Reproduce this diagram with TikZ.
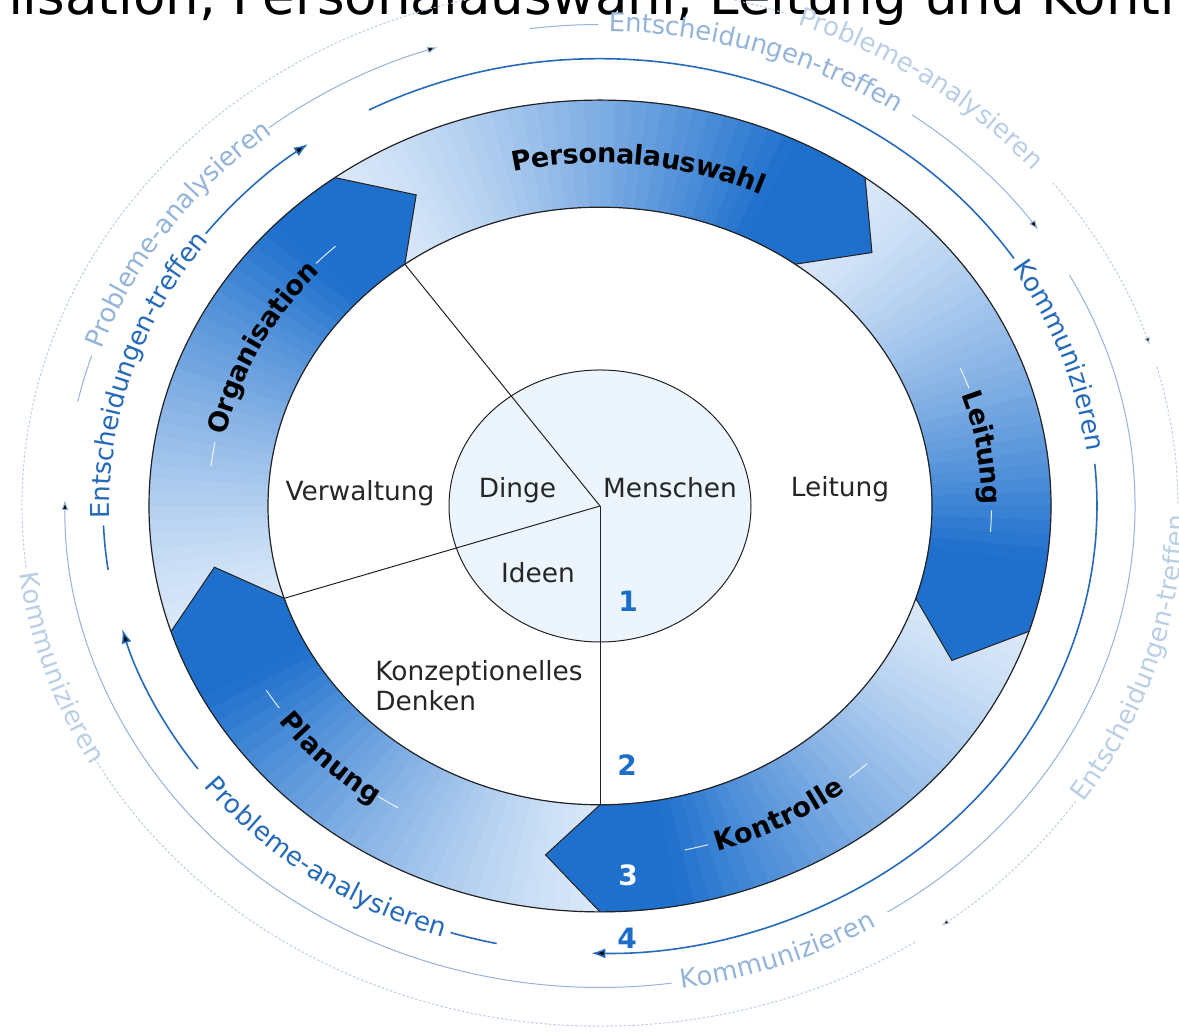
\documentclass[tikz,border=0pt]{standalone}
\usepackage{fontspec}
\setmainfont{DejaVu Sans}
\usetikzlibrary{decorations.text,arrows.meta}
\definecolor{rlight}{RGB}{218,232,249}
\definecolor{rdark}{RGB}{30,112,204}
\definecolor{dblue}{RGB}{38,106,186}
\definecolor{lblue}{RGB}{148,180,218}
\definecolor{llblue}{RGB}{186,206,230}
\definecolor{numblue}{RGB}{28,110,200}
\definecolor{innerfill}{RGB}{236,245,253}
\definecolor{ringline}{RGB}{35,35,35}
\newcommand\ept[2]{({(#2)*cos(#1)},{0.9*(#2)*sin(#1)})}
\newcommand\earc[3]{({(#3)*cos(#1)},{0.9*(#3)*sin(#1)}) arc[start angle={#1}, end angle={#2}, x radius={#3}, y radius={0.9*(#3)}]}
\newcommand\arcfont{\fontsize{13}{15}\selectfont}
\newcommand\lblfont{\fontsize{13.5}{15}\selectfont\bfseries}
\tikzset{
  dline/.style={draw=dblue, line width=0.8pt},
  lline/.style={draw=lblue, line width=0.5pt},
  llline/.style={draw=llblue, line width=0.5pt, dash pattern=on 1.2pt off 1pt},
  darrow/.style={-{Latex[length=7pt,width=5pt]}},
  larrow/.style={-{Latex[length=5pt,width=3.5pt]}},
  llarrow/.style={-{Latex[length=4pt,width=3pt]}},
  arctext/.style 2 args={decorate, decoration={text along path, text align=center, raise=-3.4pt, text color=#1, text={|\arcfont|#2}}},
  lbltext/.style={decorate, decoration={text along path, text align=center, raise=-4.6pt, text color=black, text={|\lblfont|#1}}},
  wline/.style={draw=white, line width=0.5pt, opacity=0.85},
  ctext/.style={inner sep=0pt, text=black!85, font=\fontsize{13.2}{15}\selectfont},
  numtext/.style={inner sep=0pt, text=numblue, font=\fontsize{14}{16}\selectfont\bfseries},
}
\begin{document}
\begin{tikzpicture}[x=0.5pt,y=0.5pt]
\useasboundingbox (0,0) rectangle (1179,1032);
\clip (0,0) rectangle (1179,1032);
\fill[white] (0,0) rectangle (1179,1032);
\node[anchor=base west, inner sep=0pt, font=\fontsize{26.5}{30}\selectfont] (title) at (-140,1017) {Organisation, Personalauswahl, Leitung und Kontrolle};
\begin{scope}[shift={(600,526)}]
  % ring: gradient slices
  \foreach \hc in {126,54,-18,-90,-162} {
    \foreach \j in {0,...,35} {
      \pgfmathsetmacro\angA{\hc+72-2*\j}
      \pgfmathsetmacro\angB{\angA-2}
      \pgfmathsetmacro\pct{100*(min(1,(\j+0.5)/31))^1.3}
      \fill[draw, line width=0.3pt, color=rdark!\pct!rlight] \earc{\angA}{\angB}{451} -- \earc{\angB}{\angA}{332} -- cycle;
    }
  }
  % arrow heads
  \foreach \hc in {126,54,-18,-90,-162} {
    \fill[rdark] \ept{\hc+0.8}{451} -- \ept{\hc}{451} -- \ept{\hc-8}{391.5} -- \ept{\hc}{332} -- \ept{\hc+0.8}{332} -- cycle;
    \draw[ringline, line width=0.5pt, line join=miter] \ept{\hc}{451} -- \ept{\hc-8}{391.5} -- \ept{\hc}{332};
  }
  \draw[ringline, line width=0.6pt] (0,0) ellipse[x radius=451, y radius=405.9];
  \draw[ringline, line width=0.6pt] (0,0) ellipse[x radius=332, y radius=298.8];
  % inner circle
  \filldraw[fill=innerfill, draw=ringline, line width=0.5pt] (0,0) ellipse[x radius=151, y radius=136];
  \coordinate (ctr) at (0,0);
  \path \ept{126}{332} coordinate (kO);
  \path \ept{198}{332} coordinate (kP);
  \path \ept{270}{332} coordinate (kK);
  \draw[ringline, line width=0.5pt] (ctr) -- (kO);
  \draw[ringline, line width=0.5pt] (ctr) -- (kP);
  \draw[ringline, line width=0.5pt] (ctr) -- (kK);
  % ring labels
  \path[lbltext=Organisation] \earc{183}{123}{391.5};
  \path[lbltext=Personalauswahl] \earc{114}{54}{391.5};
  \path[lbltext=Leitung] \earc{39.4}{-20.6}{391.5};
  \path[lbltext=Kontrolle] \earc{-92}{-32}{391.5};
  \path[lbltext=Planung] \earc{195.4}{255.4}{391.5};
  \draw[wline] \earc{173.5}{169.5}{391.5};
  \draw[wline] \earc{136.5}{132.5}{391.5};
  \draw[wline] \earc{23}{19.5}{391.5};
  \draw[wline] \earc{-0.7}{-4.2}{391.5};
  \draw[wline] \earc{-77.5}{-74}{391.5};
  \draw[wline] \earc{-50.5}{-47}{391.5};
  \draw[wline] \earc{211.5}{215}{391.5};
  \draw[wline] \earc{235.5}{239}{391.5};
  % dark blue circle
  \draw[dline] \earc{258}{252.5}{497};
  \path[arctext={dblue}{Probleme-analysieren}] \earc{204.5}{264.5}{497};
  \draw[dline, darrow] \earc{216}{196}{497};
  \draw[dline] \earc{188.2}{182.5}{497};
  \path[arctext={dblue}{Entscheidungen-treffen}] \earc{192.5}{132.5}{497};
  \draw[dline, darrow] \earc{142.5}{126}{497};
  \draw[dline] \earc{117.7}{33.6}{497};
  \path[arctext={dblue}{Kommunizieren}] \earc{49.5}{-10.5}{497};
  \draw[dline, darrow] \earc{5.4}{-91}{497};
  % light circle 1
  \draw[lline] \earc{167.5}{161.8}{535};
  \path[arctext={lblue}{Probleme-analysieren}] \earc{175}{115}{535};
  \draw[lline, larrow] \earc{128.2}{107.7}{535};
  \draw[lline] \earc{97.5}{90.2}{535};
  \path[arctext={lblue}{Entscheidungen-treffen}] \earc{102.2}{42.2}{535};
  \draw[lline, larrow] \earc{54.3}{35}{535};
  \draw[lline] \earc{28.7}{-57.5}{535};
  \path[arctext={lblue}{Kommunizieren}] \earc{-99.9}{-39.9}{535};
  \draw[lline, larrow] \earc{-82.3}{-180.7}{535};
  % light circle 2
  \draw[llline] \earc{186.8}{71.2}{578};
  \path[arctext={llblue}{Probleme-analysieren}] \earc{84.8}{24.8}{578};
  \draw[llline, llarrow] \earc{38.4}{18}{578};
  \draw[llline] \earc{15.5}{0.3}{578};
  \path[arctext={llblue}{Entscheidungen-treffen}] \earc{-47.3}{12.7}{578};
  \draw[llline, llarrow] \earc{-34.6}{-53.8}{578};
  \draw[llline] \earc{-57}{-151.2}{578};
  \path[arctext={llblue}{Kommunizieren}] \earc{168}{228}{578};
\end{scope}
% centre texts
\node[ctext, anchor=base] (verw) at (360,531) {Verwaltung};
\node[ctext, anchor=base] (dinge) at (517.5,534) {Dinge};
\node[ctext, anchor=base] (mensch) at (670,534) {Menschen};
\node[ctext, anchor=base] (leit) at (840,535) {Leitung};
\node[ctext, anchor=base] (ideen) at (538,449) {Ideen};
\node[ctext, anchor=base west] (konz) at (375,351) {Konzeptionelles};
\node[ctext, anchor=base west] (denk) at (375,321) {Denken};
% numbers
\node[numtext] (n1) at (628,431) {1};
\node[numtext] (n2) at (627,267) {2};
\node[numtext, text=white!88!rlight] (n3) at (628,157) {3};
\node[numtext] (n4) at (627,94) {4};
\end{tikzpicture}
\end{document}
